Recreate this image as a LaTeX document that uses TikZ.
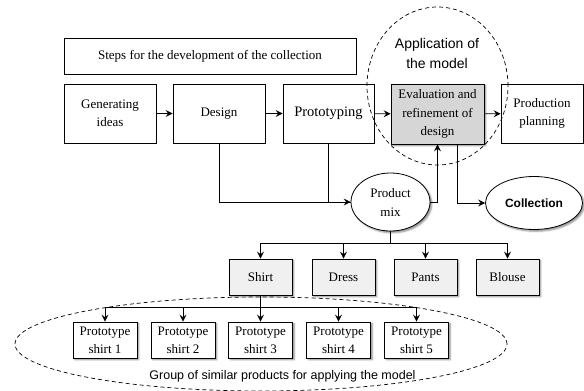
\documentclass[tikz,border=0pt]{standalone}
\usepackage{fontspec}
\setmainfont{Liberation Serif}
\newfontfamily\arialf{Liberation Sans}
\usetikzlibrary{arrows.meta,shapes.geometric,shadows.blur}
\definecolor{evalgray}{RGB}{214,214,214}
\definecolor{lightgray}{RGB}{240,240,240}
\begin{document}
\begin{tikzpicture}[x=1pt,y=-1pt,
  box/.style={draw, line width=0.8pt, align=center, inner sep=0pt,
    font=\fontsize{13}{18.5}\selectfont},
  shad/.style={blur shadow={shadow xshift=1.8pt, shadow yshift=-1.8pt,
    shadow blur radius=1.6pt, shadow opacity=45}},
  rowbox/.style={box, minimum height=59pt},
  catbox/.style={box, shad, fill=lightgray, minimum width=63pt, minimum height=36pt},
  protobox/.style={box, shad, fill=white, minimum width=64pt, minimum height=36pt,
    font=\fontsize{13}{18}\selectfont},
  oval/.style={ellipse, draw, line width=0.8pt, shad, fill=white, inner sep=0pt, align=center},
  conn/.style={line width=0.8pt},
  arr/.style={conn, -{Stealth[length=7pt,width=7pt,inset=2.6pt]}},
  dashring/.style={draw, line width=0.7pt, dash pattern=on 4pt off 3pt},
  sanslabel/.style={align=center, inner sep=0pt, font=\arialf\fontsize{14}{20}\selectfont}
]
\useasboundingbox (0,0) rectangle (584,391);

% top row
\node[box, minimum width=292pt, minimum height=36pt] (title) at (210,56)
  {Steps for the development of the collection};
\node[rowbox, minimum width=92pt] (gen) at (110,113.5) {Generating\\ideas};
\node[rowbox, minimum width=92pt] (des) at (219,113.5) {Design};
\node[rowbox, minimum width=91pt, font=\fontsize{14.5}{18.5}\selectfont] (proto) at (328.5,113.5) {Prototyping};
\node[rowbox, shad, fill=evalgray, minimum width=93pt, minimum height=60pt] (eval) at (437.5,114)
  {Evaluation and\\refinement of\\design};
\node[rowbox, minimum width=82pt] (prod) at (542,113.5) {Production\\planning};

% ovals
\node[oval, minimum width=79pt, minimum height=58pt, font=\fontsize{13}{19}\selectfont] (pmix) at (390.5,202) {Product\\mix};
\node[oval, minimum width=97pt, minimum height=53pt, font=\arialf\bfseries\fontsize{12}{14}\selectfont] (coll) at (534,203) {Collection};

% categories
\node[catbox] (shirt) at (260.5,277) {Shirt};
\node[catbox] (dress) at (343.5,277) {Dress};
\node[catbox] (pants) at (425.5,277) {Pants};
\node[catbox] (blouse) at (507.5,277) {Blouse};

% prototypes
\node[protobox] (p1) at (105,340) {Prototype\\shirt 1};
\node[protobox] (p2) at (183,340) {Prototype\\shirt 2};
\node[protobox] (p3) at (260.5,340) {Prototype\\shirt 3};
\node[protobox] (p4) at (338.5,340) {Prototype\\shirt 4};
\node[protobox] (p5) at (416.5,340) {Prototype\\shirt 5};

% connectors, top row
\draw[arr] (gen) -- (des);
\draw[arr] (des) -- (proto);
\draw[arr] (proto) -- (eval);
\draw[arr] (eval) -- (prod);

\draw[conn] (des.south) |- (pmix.west);
\draw[arr] (proto.south) |- (pmix.west);
\draw[arr] (pmix.east) -| (eval.south);
\draw[arr] ([xshift=19.5pt]eval.south) |- (coll.west);

% category bus
\coordinate (bus1) at (390.5,243);
\draw[conn] (pmix.south) -- (bus1);
\foreach \n in {shirt,dress,pants,blouse} \draw[arr] (bus1) -| (\n.north);

% prototype bus
\coordinate (bus2) at (260.5,307);
\draw[conn] (shirt.south) -- (bus2);
\foreach \n in {p1,p2,p3,p4,p5} \draw[arr] (bus2) -| (\n.north);

% dashed groupings
\path[dashring] (437.5,86) ellipse [x radius=70.5pt, y radius=79pt];
\node[sanslabel] (applab) at (437,53) {Application of\\the model};
\path[dashring] (261,344) ellipse [x radius=246pt, y radius=47pt];
\node[sanslabel, font=\arialf\fontsize{12.5}{14}\selectfont] (grplab) at (282.5,376)
  {Group of similar products for applying the model};
\end{tikzpicture}
\end{document}
